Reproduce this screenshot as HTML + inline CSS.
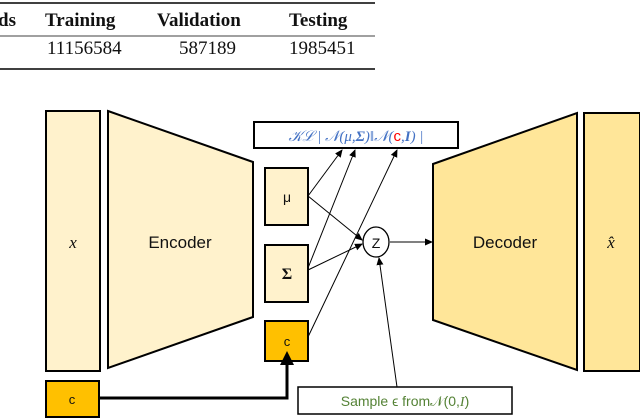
<!DOCTYPE html>
<html><head><meta charset="utf-8"><style>
body{margin:0;width:640px;height:418px;background:#fff;overflow:hidden}
svg{display:block}
</style></head><body>
<svg width="640" height="418" viewBox="0 0 640 418" xmlns="http://www.w3.org/2000/svg">
<defs>
<marker id="a" markerWidth="8" markerHeight="8" refX="7" refY="4" orient="auto" markerUnits="userSpaceOnUse"><path d="M0,0.5 L8,4 L0,7.5z" fill="#000"/></marker>
<marker id="b" markerWidth="16" markerHeight="16" refX="8" refY="14" orient="0" markerUnits="userSpaceOnUse"><path d="M1,15 L8,1 L15,15z" fill="#000"/></marker>
</defs>
<!-- table -->
<line x1="0" y1="3" x2="375" y2="3" stroke="#000" stroke-width="1.6"/>
<line x1="0" y1="36" x2="375" y2="36" stroke="#000" stroke-width="0.8"/>
<line x1="0" y1="69" x2="375" y2="69" stroke="#000" stroke-width="1.6"/>
<g font-family="Liberation Serif, serif" font-size="19" fill="#111">
<text x="-2" y="26" font-weight="bold">ds</text>
<text x="45" y="26" font-weight="bold">Training</text>
<text x="157" y="26" font-weight="bold">Validation</text>
<text x="289" y="26" font-weight="bold">Testing</text>
<text x="47" y="54">11156584</text>
<text x="179" y="54">587189</text>
<text x="289" y="54">1985451</text>
</g>
<!-- shapes -->
<rect x="46" y="111" width="54" height="260" fill="#fff2cc" stroke="#000" stroke-width="2"/>
<polygon points="108,111 253,162 253,317 108,368" fill="#fff2cc" stroke="#000" stroke-width="2"/>
<polygon points="433,164 577,113 577,370 433,320" fill="#ffe699" stroke="#000" stroke-width="2"/>
<rect x="584" y="113" width="56" height="258" fill="#ffe699" stroke="#000" stroke-width="2"/>
<rect x="254" y="122" width="204" height="26" fill="#fff" stroke="#000" stroke-width="2"/>
<rect x="265" y="168" width="43" height="57" fill="#fff2cc" stroke="#000" stroke-width="2"/>
<rect x="265" y="245" width="43" height="57" fill="#fff2cc" stroke="#000" stroke-width="2"/>
<rect x="265" y="321" width="43" height="40" fill="#ffc000" stroke="#000" stroke-width="2"/>
<rect x="46" y="381" width="53" height="36" fill="#ffc000" stroke="#000" stroke-width="2"/>
<rect x="298" y="387" width="214" height="27" fill="#fff" stroke="#000" stroke-width="1.5"/>
<ellipse cx="376" cy="242" rx="13" ry="15" fill="#fff" stroke="#000" stroke-width="1.3"/>
<!-- connectors -->
<g stroke="#000" stroke-width="1" fill="none" marker-end="url(#a)">
<line x1="308" y1="196" x2="342" y2="150"/>
<line x1="308" y1="268" x2="355" y2="150"/>
<line x1="308" y1="337" x2="397" y2="150"/>
<line x1="308" y1="196" x2="362" y2="240"/>
<line x1="308" y1="270" x2="362" y2="244"/>
<line x1="397" y1="387" x2="379" y2="258"/>
<line x1="390" y1="242" x2="432" y2="242"/>
</g>
<polyline points="99,398 287,398 287,364" fill="none" stroke="#000" stroke-width="3" marker-end="url(#b)"/>
<!-- labels -->
<g font-family="Liberation Sans, DejaVu Sans, sans-serif" fill="#111">
<text x="73" y="248" font-family="Liberation Serif, serif" font-style="italic" font-size="17" text-anchor="middle">x</text>
<text x="180" y="248" font-size="17" text-anchor="middle">Encoder</text>
<text x="505" y="248" font-size="17" text-anchor="middle">Decoder</text>
<text x="611" y="248" font-family="Liberation Serif, serif" font-style="italic" font-size="17" text-anchor="middle">x̂</text>
<text x="287" y="202" font-size="14" text-anchor="middle">μ</text>
<text x="287" y="279" font-family="Liberation Serif, serif" font-weight="bold" font-size="16" text-anchor="middle">Σ</text>
<text x="287" y="346" font-size="13" text-anchor="middle">c</text>
<text x="72" y="404" font-size="13" text-anchor="middle">c</text>
<text x="376" y="248" font-size="14" text-anchor="middle">Z</text>
<text x="405" y="406" font-size="14" fill="#548235" text-anchor="middle">Sample ϵ from𝒩(0,<tspan font-family="Liberation Serif, serif" font-style="italic">I</tspan>)</text>
<text x="356" y="141" font-family="Liberation Serif, DejaVu Serif, serif" font-size="15" fill="#4472c4" text-anchor="middle" font-style="italic">𝒦ℒ | 𝒩(μ,<tspan font-weight="bold">Σ</tspan>)‖𝒩(<tspan fill="#ff0000" font-style="normal" font-family="Liberation Sans, sans-serif">c</tspan>,<tspan font-weight="bold">I</tspan>) |</text>
</g>
</svg>
</body></html>
